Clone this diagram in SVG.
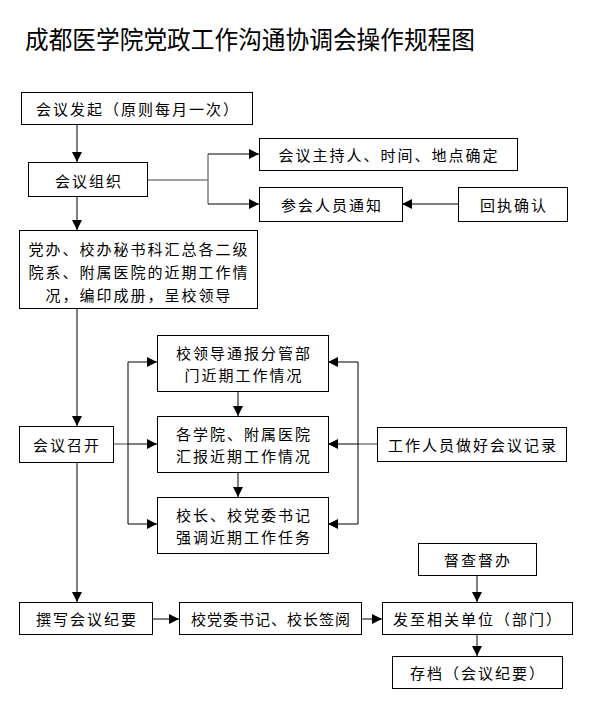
<svg xmlns="http://www.w3.org/2000/svg" width="596" height="707" viewBox="0 0 596 707">
<style>
.box{fill:#fff;stroke:#000;stroke-width:1}
.t{font-family:"Noto Sans CJK SC","Noto Sans",sans-serif;font-size:15px;fill:#000;text-anchor:middle;dominant-baseline:central;letter-spacing:2px}
.title{font-family:"Noto Sans CJK SC",sans-serif;font-size:25px;fill:#000}
.c{fill:none;stroke:#000;stroke-width:1}
.g{fill:none;stroke:#808080;stroke-width:1.5}
</style>
<defs>
<marker id="ah" markerUnits="userSpaceOnUse" markerWidth="10" markerHeight="10" refX="10" refY="5" orient="auto">
<path d="M0,0 L10,5 L0,10 z" fill="#000"/>
</marker>
</defs>
<rect width="596" height="707" fill="#fff"/>
<text class="title" x="25" y="49" textLength="450" lengthAdjust="spacingAndGlyphs">成都医学院党政工作沟通协调会操作规程图</text>

<g id="connectors">
<line class="c" x1="77" y1="124" x2="77" y2="162" marker-end="url(#ah)"/>
<polyline class="g" points="147,180 208,180"/>
<polyline class="g" points="208,154 208,204"/>
<line class="c" x1="208" y1="154" x2="259" y2="154" marker-end="url(#ah)"/>
<line class="c" x1="208" y1="204" x2="259" y2="204" marker-end="url(#ah)"/>
<line class="c" x1="458" y1="204" x2="402" y2="204" marker-end="url(#ah)"/>
<line class="c" x1="77" y1="196" x2="77" y2="230" marker-end="url(#ah)"/>
<line class="c" x1="77" y1="308" x2="77" y2="426" marker-end="url(#ah)"/>
<line class="g" x1="113" y1="444" x2="128" y2="444"/>
<line class="c" x1="128" y1="362" x2="128" y2="524"/>
<line class="c" x1="128" y1="362" x2="157" y2="362" marker-end="url(#ah)"/>
<line class="c" x1="128" y1="444" x2="157" y2="444" marker-end="url(#ah)"/>
<line class="c" x1="128" y1="524" x2="157" y2="524" marker-end="url(#ah)"/>
<line class="c" x1="238" y1="391" x2="238" y2="416" marker-end="url(#ah)"/>
<line class="c" x1="238" y1="472" x2="238" y2="497" marker-end="url(#ah)"/>
<line class="g" x1="377" y1="444" x2="358" y2="444"/>
<line class="c" x1="358" y1="362" x2="358" y2="524"/>
<line class="c" x1="358" y1="362" x2="328" y2="362" marker-end="url(#ah)"/>
<line class="c" x1="358" y1="444" x2="328" y2="444" marker-end="url(#ah)"/>
<line class="c" x1="358" y1="524" x2="328" y2="524" marker-end="url(#ah)"/>
<line class="c" x1="77" y1="462" x2="77" y2="602" marker-end="url(#ah)"/>
<line class="c" x1="152" y1="619" x2="179" y2="619" marker-end="url(#ah)"/>
<line class="c" x1="361" y1="619" x2="382" y2="619" marker-end="url(#ah)"/>
<line class="c" x1="477" y1="575" x2="477" y2="602" marker-end="url(#ah)"/>
<line class="c" x1="477" y1="634" x2="477" y2="656" marker-end="url(#ah)"/>
</g>

<g id="n1"><rect class="box" x="21.5" y="92.5" width="231" height="32"/><text class="t" x="138" y="108">会议发起（原则每月一次）</text></g>
<g id="n2"><rect class="box" x="28.5" y="162.5" width="119" height="34"/><text class="t" x="89" y="180">会议组织</text></g>
<g id="n3"><rect class="box" x="259.5" y="138.5" width="258" height="32"/><text class="t" x="389" y="154">会议主持人、时间、地点确定</text></g>
<g id="n4"><rect class="box" x="259.5" y="187.5" width="143" height="34"/><text class="t" x="332" y="204">参会人员通知</text></g>
<g id="n5"><rect class="box" x="458.5" y="187.5" width="109" height="34"/><text class="t" x="514" y="204">回执确认</text></g>
<g id="n6"><rect class="box" x="19.5" y="230.5" width="238" height="78"/>
<text class="t" x="139" y="248">党办、校办秘书科汇总各二级</text>
<text class="t" x="139" y="271">院系、附属医院的近期工作情</text>
<text class="t" x="139" y="294">况，编印成册，呈校领导</text></g>
<g id="n7"><rect class="box" x="19.5" y="426.5" width="94" height="36"/><text class="t" x="67" y="444">会议召开</text></g>
<g id="n8"><rect class="box" x="157.5" y="335.5" width="171" height="56"/>
<text class="t" x="244" y="352">校领导通报分管部</text>
<text class="t" x="244" y="374">门近期工作情况</text></g>
<g id="n9"><rect class="box" x="157.5" y="416.5" width="171" height="56"/>
<text class="t" x="244" y="433">各学院、附属医院</text>
<text class="t" x="244" y="455">汇报近期工作情况</text></g>
<g id="n10"><rect class="box" x="157.5" y="497.5" width="171" height="56"/>
<text class="t" x="244" y="514">校长、校党委书记</text>
<text class="t" x="244" y="536">强调近期工作任务</text></g>
<g id="n11"><rect class="box" x="377.5" y="427.5" width="189" height="34"/><text class="t" x="473" y="444">工作人员做好会议记录</text></g>
<g id="n12"><rect class="box" x="19.5" y="602.5" width="133" height="32"/><text class="t" x="87" y="618">撰写会议纪要</text></g>
<g id="n13"><rect class="box" x="179.5" y="602.5" width="182" height="32"/><text class="t" x="271" y="618" style="letter-spacing:1px">校党委书记、校长签阅</text></g>
<g id="n14"><rect class="box" x="382.5" y="602.5" width="190" height="32"/><text class="t" x="478" y="618">发至相关单位（部门）</text></g>
<g id="n15"><rect class="box" x="418.5" y="543.5" width="118" height="32"/><text class="t" x="478" y="559">督查督办</text></g>
<g id="n16"><rect class="box" x="392.5" y="656.5" width="170" height="32"/><text class="t" x="478" y="672">存档（会议纪要）</text></g>
</svg>
